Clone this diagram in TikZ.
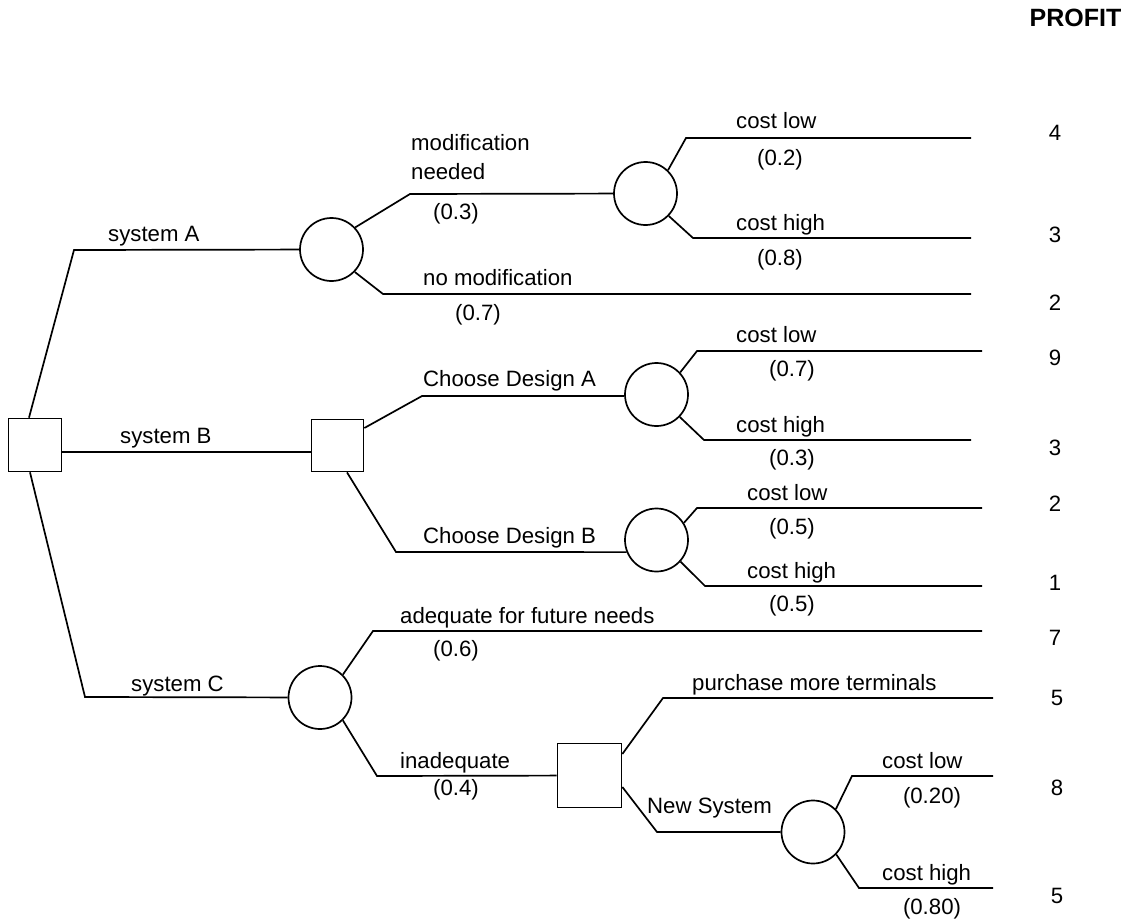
\documentclass[tikz,border=0pt]{standalone}
\usepackage{fontspec}
\setmainfont{Liberation Sans}
\begin{document}
\begin{tikzpicture}[x=1pt,y=-1pt,
  lbl/.style={inner sep=0pt, font=\fontsize{22.2}{26}\selectfont},
  lw/.style={lbl, anchor=base west},
  lc/.style={lbl, anchor=base},
  dec/.style={draw, rectangle, minimum size=#1, inner sep=0pt, line width=1.7pt},
  chance/.style={draw, circle, minimum size=63pt, inner sep=0pt, line width=1.7pt},
  branch/.style={line width=1.7pt, line join=miter}]
\useasboundingbox (0,0) rectangle (1130,923);

% decision and chance nodes
\node[dec=53pt] (root) at (35,445) {};
\node[chance] (cA) at (331.5,249.5) {};
\node[chance] (cA2) at (645.5,193.5) {};
\node[dec=52pt] (sqB) at (337.5,445.5) {};
\node[chance] (cDA) at (656.5,394.5) {};
\node[chance] (cDB) at (656.5,540) {};
\node[chance] (cC) at (320,697.5) {};
\node[dec=64pt] (sqD) at (589.5,775.5) {};
\node[chance] (cE) at (813,832) {};

% elbows
\coordinate (eA) at (74,250);
\coordinate (eC) at (85,697);
\coordinate (eAup) at (410,194);
\coordinate (eAdn) at (383,294);
\coordinate (e1) at (686,138);
\coordinate (e2) at (693,238);
\coordinate (eBup) at (422,396);
\coordinate (eBdn) at (396,552);
\coordinate (e4) at (697,351);
\coordinate (e5) at (704,440);
\coordinate (e6) at (697,508);
\coordinate (e7) at (705,586);
\coordinate (eCup) at (373,631);
\coordinate (eCdn) at (377,776);
\coordinate (eDup) at (663,698);
\coordinate (eDdn) at (657,832);
\coordinate (e10) at (852,776);
\coordinate (e11) at (859,888);

% leaf ends
\coordinate (t1) at (971,138);
\coordinate (t2) at (971,238);
\coordinate (t3) at (971,294);
\coordinate (t4) at (982,351);
\coordinate (t5) at (971,440);
\coordinate (t6) at (982,508);
\coordinate (t7) at (982,586);
\coordinate (t8) at (982,631);
\coordinate (t9) at (993,698);
\coordinate (t10) at (993,776);
\coordinate (t11) at (993,888);

% connectors
\draw[branch] ([xshift=-6pt]root.north) -- (eA) -- (cA);
\draw[branch] ([yshift=-7pt]root.east) -- ([yshift=-7pt]root.east -| sqB.west);
\draw[branch] ([xshift=-5pt]root.south) -- (eC) -- (cC);

\draw[branch] (cA.43) -- (eAup) -- (cA2);
\draw[branch] (cA.-44) -- (eAdn) -- (t3);
\draw[branch] (cA2.46) -- (e1) -- (t1);
\draw[branch] (cA2.-44) -- (e2) -- (t2);

\draw[branch] ([yshift=17.5pt]sqB.east) -- (eBup) -- (eBup -| cDA.west);
\draw[branch] ([xshift=9.5pt]sqB.south) -- (eBdn) -- (cDB.202);
\draw[branch] (cDA.43) -- (e4) -- (t4);
\draw[branch] (cDA.-44) -- (e5) -- (t5);
\draw[branch] (cDB.32) -- (e6) -- (t6);
\draw[branch] (cDB.-42) -- (e7) -- (t7);

\draw[branch] (cC.45) -- (eCup) -- (t8);
\draw[branch] (cC.-45) -- (eCdn) -- (sqD);
\draw[branch] ([yshift=21.5pt]sqD.east) -- (eDup) -- (t9);
\draw[branch] ([yshift=-11.5pt]sqD.east) -- (eDdn) -- (cE);
\draw[branch] (cE.45) -- (e10) -- (t10);
\draw[branch] (cE.-44) -- (e11) -- (t11);

% labels
\node[lbl, anchor=base, font=\fontsize{25}{30}\selectfont\bfseries] (profit) at (1075.5,27) {PROFIT};

\node[lw] (lsA) at (108,241) {system A};
\node[lw] (lsB) at (120,443) {system B};
\node[lw] (lsC) at (131,691) {system C};

\node[lw] (lmod1) at (411,151) {modification};
\node[lw] (lmod2) at (411,179) {needed};
\node[lc] (p03) at (456,219) {(0.3)};
\node[lw] (lnomod) at (423,285) {no modification};
\node[lc] (p07) at (478,320) {(0.7)};

\node[lw] (l1) at (736,129) {cost low};
\node[lc] (p1) at (780,165) {(0.2)};
\node[lw] (l2) at (736,230) {cost high};
\node[lc] (p2) at (780,265) {(0.8)};

\node[lw] (lDA) at (423,386) {Choose Design A};
\node[lw] (lDB) at (423,543) {Choose Design B};
\node[lw] (l4) at (736,342) {cost low};
\node[lc] (p4) at (792,376) {(0.7)};
\node[lw] (l5) at (736,432) {cost high};
\node[lc] (p5) at (792,465) {(0.3)};
\node[lw] (l6) at (747,500) {cost low};
\node[lc] (p6) at (792,534) {(0.5)};
\node[lw] (l7) at (747,578) {cost high};
\node[lc] (p7) at (792,611) {(0.5)};

\node[lw] (l8) at (400,623) {adequate for future needs};
\node[lc] (p8) at (456,656) {(0.6)};
\node[lw] (linad) at (400,768) {inadequate};
\node[lc] (pinad) at (456,795) {(0.4)};
\node[lw] (l9) at (692,690) {purchase more terminals};
\node[lw] (lnew) at (647,813) {New System};
\node[lw] (l10) at (882,768) {cost low};
\node[lc] (p10) at (932,803) {(0.20)};
\node[lw] (l11) at (882,880) {cost high};
\node[lc] (p11) at (932,914) {(0.80)};

% profits
\node[lc] (v1) at (1055,141) {4};
\node[lc] (v2) at (1055,242) {3};
\node[lc] (v3) at (1055,310) {2};
\node[lc] (v4) at (1055,365) {9};
\node[lc] (v5) at (1055,455) {3};
\node[lc] (v6) at (1055,511) {2};
\node[lc] (v7) at (1055,590) {1};
\node[lc] (v8) at (1055,645) {7};
\node[lc] (v9) at (1057,705) {5};
\node[lc] (v10) at (1057,795) {8};
\node[lc] (v11) at (1057,903) {5};
\end{tikzpicture}
\end{document}
